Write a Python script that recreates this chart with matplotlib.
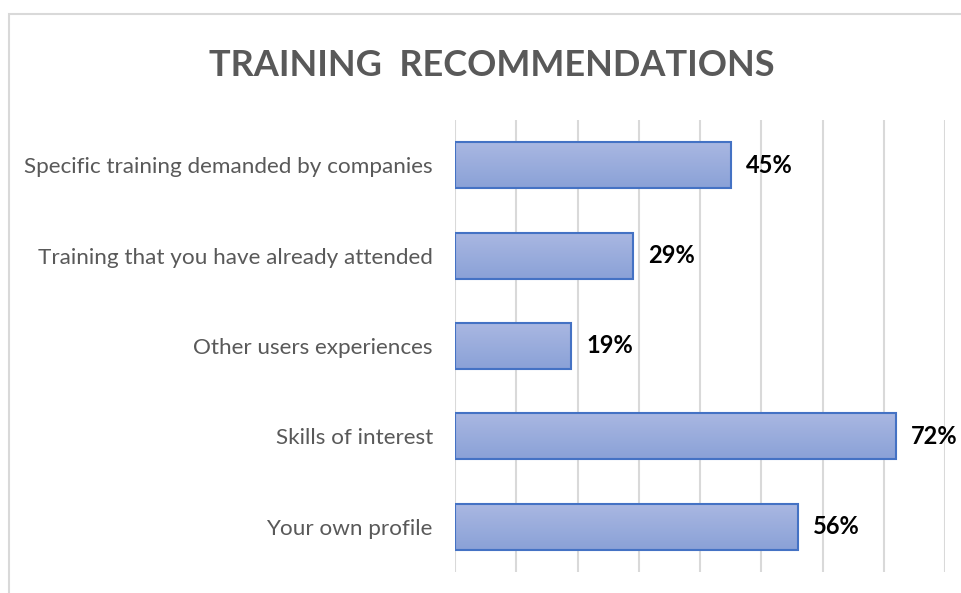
import matplotlib
matplotlib.use("Agg")
import matplotlib.pyplot as plt
import numpy as np
from matplotlib.patches import Rectangle
from matplotlib.colors import LinearSegmentedColormap

categories = ["Your own profile", "Skills of interest", "Other users experiences",
              "Training that you have already attended", "Specific training demanded by companies"]
values = [56, 72, 19, 29, 45]
labels = ["56%", "72%", "19%", "29%", "45%"]

W, H = 961, 593
fig = plt.figure(figsize=(W/100, H/100), dpi=100)
fig.patch.set_facecolor("white")

# outer chart border
fig.patches.append(Rectangle((9/W, -0.1), 1.2, 1 - 14/H + 0.1, transform=fig.transFigure,
                             fill=False, edgecolor="#D9D9D9", linewidth=1.5))

ax = fig.add_axes([455/W, 1 - 572/H, (945-455)/W, (572-120)/H])
for s in ax.spines.values():
    s.set_visible(False)
ax.set_xticks(np.arange(0, 81, 10))
ax.set_xticklabels([])
ax.tick_params(axis="x", length=0)
ax.grid(axis="x", color="#D9D9D9", linewidth=1.5)
ax.set_axisbelow(True)

y = np.arange(len(categories))
bh = 0.51
bars = ax.barh(y, values, height=bh, color="none", edgecolor="#4472C4", linewidth=1.5, zorder=3)

grad = np.linspace(0, 1, 100).reshape(-1, 1)
cmap = LinearSegmentedColormap.from_list("g", ["#AAB8E2", "#8AA1D7"])
for b in bars:
    x0, y0 = b.get_x(), b.get_y()
    w, h = b.get_width(), b.get_height()
    # light at top of bar, darker at bottom
    ax.imshow(grad, extent=[x0, x0 + w, y0, y0 + h], origin="lower", aspect="auto",
              cmap=cmap.reversed(), zorder=2)
ax.set_xlim(0, 80)
ax.set_ylim(-0.5, len(categories) - 0.5)

ax.set_yticks(y)
ax.set_yticklabels(categories, fontsize=16.2, color="#595959", family="Lato")
ax.tick_params(axis="y", length=0, pad=16)

for yi, v, lab in zip(y, values, labels):
    ax.text(v + 2.5, yi, lab, va="center", ha="left", fontsize=17, fontweight="bold",
            color="black", family="Lato")

fig.text(492/W, 1 - 65/H, "TRAINING  RECOMMENDATIONS", ha="center", va="center",
         fontsize=26, fontweight="bold", color="#595959", family="Lato")

fig.savefig("out.png", dpi=100)
